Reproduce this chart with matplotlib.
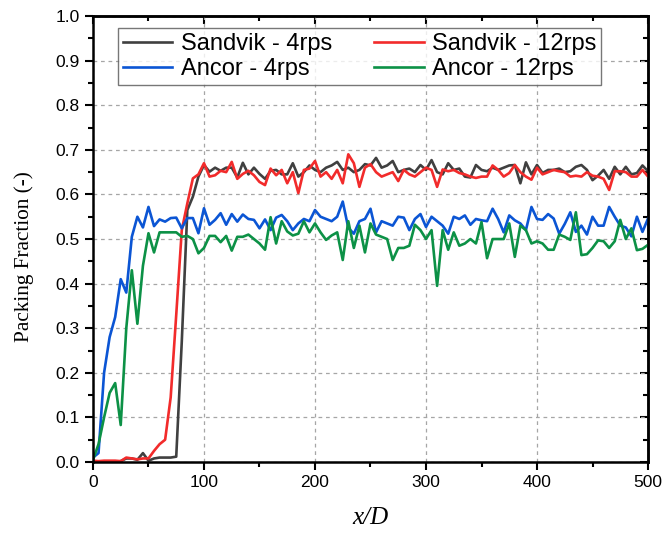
import numpy as np
import matplotlib
matplotlib.use("Agg")
import matplotlib.pyplot as plt
from matplotlib.ticker import MultipleLocator, FormatStrFormatter

# x/D positions, sampled every 5 diameters
x_d = np.arange(0, 505, 5)

sandvik_4rps = [
    0.000, 0.000, 0.000, 0.000, 0.000, 0.002, 0.008, 0.008, 0.005, 0.020,
    0.003, 0.008, 0.010, 0.010, 0.010, 0.012, 0.270, 0.565, 0.595, 0.640,
    0.666, 0.651, 0.660, 0.653, 0.660, 0.660, 0.638, 0.671, 0.645, 0.660,
    0.646, 0.635, 0.653, 0.655, 0.645, 0.645, 0.670, 0.640, 0.650, 0.665,
    0.655, 0.650, 0.660, 0.665, 0.673, 0.655, 0.660, 0.650, 0.655, 0.668,
    0.665, 0.682, 0.660, 0.665, 0.675, 0.650, 0.655, 0.658, 0.650, 0.666,
    0.655, 0.677, 0.650, 0.645, 0.670, 0.655, 0.658, 0.640, 0.638, 0.666,
    0.655, 0.652, 0.660, 0.655, 0.660, 0.665, 0.666, 0.625, 0.672, 0.645,
    0.666, 0.648, 0.655, 0.655, 0.658, 0.650, 0.652, 0.662, 0.666, 0.655,
    0.632, 0.642, 0.655, 0.635, 0.662, 0.645, 0.662, 0.645, 0.648, 0.665,
    0.652,
]

sandvik_12rps = [
    0.003, 0.002, 0.003, 0.003, 0.003, 0.002, 0.010, 0.008, 0.006, 0.008,
    0.008, 0.025, 0.040, 0.050, 0.145, 0.330, 0.520, 0.580, 0.636, 0.645,
    0.670, 0.640, 0.643, 0.653, 0.650, 0.673, 0.635, 0.646, 0.653, 0.643,
    0.628, 0.621, 0.658, 0.643, 0.655, 0.625, 0.650, 0.603, 0.655, 0.658,
    0.675, 0.640, 0.650, 0.635, 0.655, 0.625, 0.690, 0.670, 0.617, 0.660,
    0.668, 0.650, 0.640, 0.645, 0.650, 0.630, 0.655, 0.645, 0.640, 0.650,
    0.660, 0.655, 0.617, 0.656, 0.652, 0.655, 0.648, 0.645, 0.640, 0.637,
    0.640, 0.640, 0.665, 0.655, 0.640, 0.648, 0.666, 0.650, 0.640, 0.633,
    0.660, 0.645, 0.650, 0.655, 0.652, 0.650, 0.640, 0.642, 0.640, 0.650,
    0.642, 0.640, 0.635, 0.610, 0.652, 0.652, 0.650, 0.640, 0.640, 0.655,
    0.640,
]

ancor_4rps = [
    0.010, 0.020, 0.200, 0.280, 0.325, 0.410, 0.380, 0.505, 0.550, 0.526,
    0.572, 0.529, 0.544, 0.539, 0.547, 0.548, 0.524, 0.547, 0.547, 0.513,
    0.569, 0.532, 0.543, 0.558, 0.532, 0.556, 0.539, 0.555, 0.545, 0.543,
    0.524, 0.544, 0.520, 0.548, 0.554, 0.540, 0.520, 0.535, 0.545, 0.540,
    0.565, 0.550, 0.545, 0.540, 0.550, 0.584, 0.525, 0.512, 0.540, 0.545,
    0.568, 0.515, 0.540, 0.535, 0.530, 0.550, 0.548, 0.520, 0.545, 0.556,
    0.527, 0.550, 0.540, 0.530, 0.512, 0.550, 0.545, 0.553, 0.532, 0.545,
    0.542, 0.540, 0.568, 0.545, 0.515, 0.553, 0.542, 0.535, 0.520, 0.572,
    0.545, 0.543, 0.556, 0.546, 0.512, 0.534, 0.560, 0.516, 0.530, 0.510,
    0.550, 0.530, 0.530, 0.572, 0.550, 0.530, 0.526, 0.506, 0.550, 0.516,
    0.546,
]

ancor_12rps = [
    0.005, 0.040, 0.100, 0.155, 0.177, 0.083, 0.300, 0.430, 0.310, 0.440,
    0.513, 0.470, 0.515, 0.515, 0.515, 0.515, 0.505, 0.507, 0.500, 0.468,
    0.480, 0.507, 0.507, 0.493, 0.507, 0.474, 0.505, 0.505, 0.510, 0.500,
    0.490, 0.476, 0.549, 0.490, 0.540, 0.517, 0.508, 0.512, 0.540, 0.515,
    0.535, 0.515, 0.498, 0.508, 0.515, 0.453, 0.540, 0.480, 0.530, 0.470,
    0.535, 0.510, 0.505, 0.500, 0.453, 0.480, 0.480, 0.485, 0.532, 0.520,
    0.500, 0.520, 0.395, 0.520, 0.476, 0.515, 0.485, 0.490, 0.500, 0.490,
    0.538, 0.457, 0.500, 0.500, 0.500, 0.535, 0.460, 0.530, 0.520, 0.490,
    0.495, 0.490, 0.476, 0.476, 0.510, 0.505, 0.498, 0.560, 0.464, 0.466,
    0.480, 0.497, 0.495, 0.480, 0.495, 0.543, 0.500, 0.524, 0.475, 0.478,
    0.487,
]

series = [
    ("Sandvik - 4rps", sandvik_4rps, "#404040"),
    ("Sandvik - 12rps", sandvik_12rps, "#f22b2b"),
    ("Ancor - 4rps", ancor_4rps, "#0b55d4"),
    ("Ancor - 12rps", ancor_12rps, "#0c9146"),
]

plt.rcParams["font.family"] = ["Liberation Sans", "DejaVu Sans"]

fig = plt.figure(figsize=(6.66, 5.35), dpi=100)
ax = fig.add_axes([0.1396, 0.1364, 0.8334, 0.8336])

lines = {}
for label, vals, color in series:
    lines[label], = ax.plot(x_d, vals, color=color, linewidth=1.9, label=label)

ax.set_xlim(0, 500)
ax.set_ylim(0, 1.0)
ax.xaxis.set_major_locator(MultipleLocator(100))
ax.xaxis.set_minor_locator(MultipleLocator(50))
ax.yaxis.set_major_locator(MultipleLocator(0.1))
ax.yaxis.set_minor_locator(MultipleLocator(0.05))
ax.yaxis.set_major_formatter(FormatStrFormatter("%.1f"))

ax.grid(True, which="major", color="#a6a6a6", linestyle=(0, (3, 3)), linewidth=0.9)
ax.set_axisbelow(True)

for sp in ax.spines.values():
    sp.set_linewidth(1.8)
ax.tick_params(which="major", direction="out", length=6, width=1.5, labelsize=12.5)
ax.tick_params(which="minor", direction="out", length=3.5, width=1.5)

# mirrored ticks pointing inward on top and right
top = ax.secondary_xaxis("top")
top.xaxis.set_major_locator(MultipleLocator(100))
top.xaxis.set_minor_locator(MultipleLocator(50))
top.tick_params(which="major", direction="in", length=6, width=1.5, labeltop=False)
top.tick_params(which="minor", direction="in", length=3.5, width=1.5)
top.spines["top"].set_linewidth(1.8)
right = ax.secondary_yaxis("right")
right.yaxis.set_major_locator(MultipleLocator(0.1))
right.yaxis.set_minor_locator(MultipleLocator(0.05))
right.tick_params(which="major", direction="in", length=6, width=1.5, labelright=False)
right.tick_params(which="minor", direction="in", length=3.5, width=1.5)
right.spines["right"].set_linewidth(1.8)

ax.set_xlabel("x/D", fontsize=18, family="Liberation Serif", fontstyle="italic")
ax.xaxis.set_label_coords(0.5, -0.10)
ax.set_ylabel("Packing Fraction (-)", fontsize=15.3, family="Liberation Serif")
ax.yaxis.set_label_coords(-0.106, 0.46)

order = ["Sandvik - 4rps", "Ancor - 4rps", "Sandvik - 12rps", "Ancor - 12rps"]
leg = ax.legend([lines[k] for k in order], order, ncol=2, loc="upper left",
                bbox_to_anchor=(0.045, 0.973), borderaxespad=0, fontsize=17,
                frameon=True, fancybox=False, edgecolor="#555555",
                handlelength=2.1, handletextpad=0.35, columnspacing=1.8,
                labelspacing=0.15, borderpad=0.2)
leg.get_frame().set_linewidth(1.0)

fig.savefig("out.png", dpi=100)
